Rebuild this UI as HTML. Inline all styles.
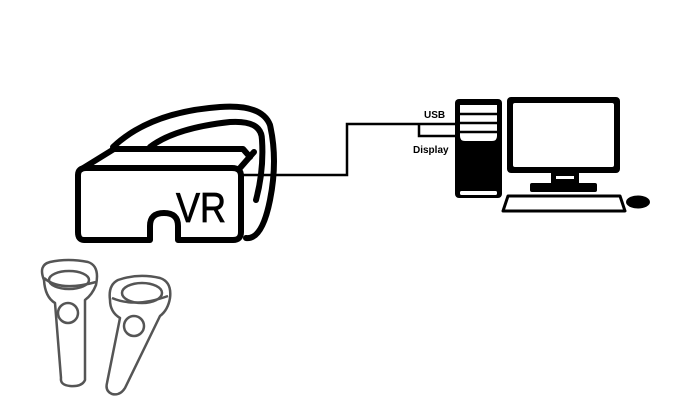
<!DOCTYPE html>
<html><head><meta charset="utf-8"><style>
html,body{margin:0;padding:0;background:#fff;}
svg{display:block;}
text{font-family:"Liberation Sans",sans-serif;}
</style></head><body>
<svg width="696" height="417" viewBox="0 0 696 417" xmlns="http://www.w3.org/2000/svg">
<g fill="none" stroke="#000" stroke-width="6" stroke-linejoin="round" stroke-linecap="round">
<path d="M84,240 Q78,240 78,232 L78,175 Q78,168 86,168 L232,168 Q241,168 241,176 L241,232 Q241,240 233,240 L178,240 L178,226 Q178,213 164,213 Q150,213 150,226 L150,240 Z"/>
<path d="M80,170 L114,149 L243,149 L250,157"/>
<path d="M240,168 L254,152"/>
<path d="M113,147 Q150,112 220,107 Q262,104 270,125 Q278,160 270,200 Q262,240 246,238"/>
<path d="M150,147 Q175,128 230,122 Q262,120 262,140 Q264,170 256,200"/>
</g>
<text x="176" y="222" font-size="42" fill="#000" textLength="50" lengthAdjust="spacingAndGlyphs" stroke="#000" stroke-width="0.8">VR</text>
<g fill="none" stroke="#000" stroke-width="2.5">
<path d="M243,175 L347,175 L347,124 L458,124"/>
<path d="M419,124 L419,136 L458,136"/>
</g>
<text x="424" y="118" font-size="10" font-weight="bold" fill="#000">USB</text>
<text x="413" y="153" font-size="10" font-weight="bold" fill="#000">Display</text>
<rect x="455" y="99" width="47" height="99" rx="4" fill="#000"/>
<path d="M460,105 L497,105 L497,136 Q497,141 492,141 L465,141 Q460,141 460,136 Z" fill="#fff"/>
<g stroke="#000" stroke-width="2.5"><line x1="460" y1="114" x2="497" y2="114"/><line x1="460" y1="123" x2="497" y2="123"/><line x1="460" y1="132" x2="497" y2="132"/></g>
<rect x="460" y="191" width="37" height="4" rx="1.5" fill="#fff"/>
<rect x="507" y="97" width="113" height="76" rx="4" fill="#000"/>
<rect x="513" y="103" width="101" height="64" rx="2" fill="#fff"/>
<rect x="551" y="172" width="28" height="12" fill="#000"/>
<rect x="556" y="176" width="18" height="3" fill="#fff"/>
<rect x="530" y="183" width="67" height="9" rx="2" fill="#000"/>
<path d="M508,196 L620,196 L625,211 L503,211 Z" fill="#fff" stroke="#000" stroke-width="3" stroke-linejoin="round"/>
<ellipse cx="638" cy="202" rx="12" ry="6.5" fill="#000"/>
<g fill="none" stroke="#555" stroke-width="2.5" stroke-linejoin="round">
<path d="M44,280 Q38,265 50,262 Q68,258 88,262 Q100,266 96,285 Q92,295 85,300 L85,380 Q82,387 70,386 Q60,385 61,378 L55,303 Q45,297 44,280 Z"/>
<path d="M44,278 Q60,292 96,282"/>
<ellipse cx="69" cy="280" rx="20" ry="9"/>
<circle cx="68" cy="313" r="10"/>
<path d="M110,300 Q108,285 118,280 Q138,273 160,278 Q172,282 170,298 Q168,310 160,316 L125,388 Q120,396 112,394 Q105,391 107,383 L120,318 Q110,312 110,300 Z"/>
<path d="M112,298 Q135,308 168,296"/>
<ellipse cx="142" cy="293" rx="20" ry="10"/>
<circle cx="134" cy="326" r="10"/>
</g>
</svg>
</body></html>
